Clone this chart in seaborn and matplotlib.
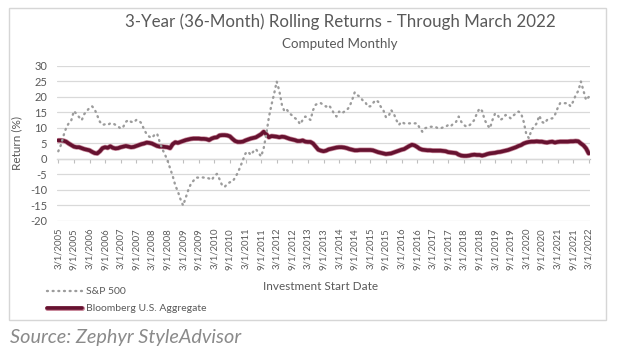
import matplotlib
matplotlib.use("Agg")
import matplotlib.pyplot as plt
import matplotlib.patheffects as pe
from matplotlib.patches import Rectangle
from matplotlib.lines import Line2D
import numpy as np
import pandas as pd
import seaborn as sns

# ---------------- data (monthly, investment start 3/2005 .. 3/2022) ----------------
sp500 = [
    2.5, 4.5, 7.5, 10, 11.5, 12.5, 15.5, 14.5, 13.5, 12.5,
    14.5, 15.5, 16.5, 17, 16, 14, 12, 11, 11.2, 11,
    11.5, 11.5, 11, 10.5, 9.8, 10.4, 12, 12.6, 12, 11.8,
    12.6, 12.4, 11.5, 9.5, 8, 7.2, 6.8, 7.8, 8.2, 5.5,
    3.2, 1.5, -0.5, -3, -5.5, -8.5, -10.5, -13, -15, -12.5,
    -10, -8, -7, -6, -6, -5.9, -6, -6, -6.3, -6.8,
    -5.5, -4.8, -6.5, -8.5, -9, -8, -7.5, -7.3, -6, -4.5,
    -2.5, -0.3, 1.8, 2.4, 1.3, 2.4, 3.2, 2, 0.8, 3.5,
    8, 13.5, 17.5, 21, 25, 22, 17.5, 15.3, 15.8, 14.7,
    14, 13.2, 12.6, 11.2, 12.6, 13.7, 13.2, 12.6, 15.8, 17.5,
    18, 18, 17.4, 16.9, 17.4, 16.3, 14.7, 13.7, 15.3, 14.7,
    15.3, 15.8, 16.9, 19, 21.5, 20.6, 20.1, 19, 18.5, 16.9,
    17, 18, 19, 18.5, 16.9, 15.8, 13.5, 13.7, 15.8, 14.7,
    12.6, 11, 12, 11.5, 11.5, 11.5, 11.5, 11.5, 11.5, 10,
    8.8, 9.9, 10.2, 10.4, 10.4, 10.4, 9.9, 9.9, 10.2, 10.4,
    11, 10.6, 11.5, 12, 13.7, 12, 11, 10.4, 10.8, 11.5,
    12.6, 14.7, 16.3, 15.5, 12.6, 11, 9.9, 12.6, 14.7, 14.2,
    12.6, 13.1, 14.2, 13.8, 13.1, 14, 14.7, 15.3, 14.7, 12,
    8, 6.7, 9.4, 10.4, 11.5, 14, 12, 11.5, 12.6, 13,
    13.1, 14.2, 16.3, 18, 18, 18, 18, 17, 18.5, 20.6,
    22, 25, 22, 19, 20,
]

agg = [
    6.0, 6.0, 5.9, 5.6, 5.0, 4.5, 4.0, 3.8, 3.8, 3.5,
    3.2, 3.0, 2.8, 2.3, 1.9, 1.8, 2.5, 3.5, 3.8, 3.6,
    4.1, 3.6, 3.4, 3.5, 3.8, 4.0, 4.2, 4.0, 3.8, 3.9,
    4.2, 4.5, 4.8, 5.0, 5.3, 5.2, 5.0, 4.6, 4.2, 4.0,
    4.0, 3.9, 3.8, 3.5, 4.8, 5.4, 5.2, 5.5, 5.8, 6.1,
    6.3, 6.5, 6.6, 6.6, 6.6, 6.5, 6.5, 6.4, 6.1, 6.6,
    6.9, 7.0, 7.6, 7.7, 7.7, 7.6, 7.3, 6.5, 5.8, 5.5,
    5.5, 5.6, 6.0, 6.3, 6.6, 6.8, 7.0, 7.5, 8.0, 8.8,
    8.0, 7.0, 7.4, 7.3, 7.2, 7.0, 7.2, 7.1, 6.8, 6.5,
    6.3, 6.1, 5.8, 5.8, 6.0, 5.6, 5.5, 5.5, 5.0, 4.0,
    3.0, 2.7, 2.5, 2.7, 3.1, 3.3, 3.5, 3.7, 3.8, 3.8,
    3.7, 3.5, 3.2, 3.0, 2.8, 2.8, 2.9, 2.9, 2.9, 2.9,
    2.9, 2.8, 2.5, 2.2, 2.0, 1.8, 1.6, 1.7, 1.8, 2.1,
    2.4, 2.7, 3.0, 3.2, 3.7, 4.2, 4.6, 4.4, 3.9, 3.3,
    3.0, 2.9, 2.8, 2.8, 2.7, 2.7, 2.7, 2.7, 2.6, 2.5,
    2.2, 2.1, 2.0, 1.9, 1.4, 1.1, 1.0, 1.0, 1.1, 1.3,
    1.4, 1.3, 1.3, 1.1, 1.3, 1.6, 1.8, 1.9, 2.0, 2.2,
    2.3, 2.5, 2.7, 2.9, 3.2, 3.5, 3.8, 4.2, 4.5, 5.0,
    5.3, 5.5, 5.6, 5.6, 5.7, 5.6, 5.6, 5.4, 5.3, 5.5,
    5.6, 5.3, 5.5, 5.6, 5.6, 5.6, 5.6, 5.7, 5.7, 5.8,
    5.7, 5.0, 4.4, 3.4, 1.8,
]

tick_labels = [
    "3/1/2005", "9/1/2005", "3/1/2006", "9/1/2006", "3/1/2007", "9/1/2007",
    "3/1/2008", "9/1/2008", "3/1/2009", "9/1/2009", "3/1/2010", "9/1/2010",
    "3/1/2011", "9/1/2011", "3/1/2012", "9/1/2012", "3/1/2013", "9/1/2013",
    "3/1/2014", "9/1/2014", "3/1/2015", "9/1/2015", "3/1/2016", "9/1/2016",
    "3/1/2017", "9/1/2017", "3/1/2018", "9/1/2018", "3/1/2019", "9/1/2019",
    "3/1/2020", "9/1/2020", "3/1/2021", "9/1/2021", "3/1/2022",
]
series_names = ["S&P 500", "Bloomberg U.S. Aggregate"]
y_ticks = [-20, -15, -10, -5, 0, 5, 10, 15, 20, 25, 30]

# ---------------- style ----------------
sns.set_theme(style="white")
plt.rcParams["font.family"] = ["Lato", "DejaVu Sans"]

TXT = "#595959"
GRID = "#d9d9d9"
SP_COL = "#9c9c9c"
AGG_COL = "#661230"
DOTS = (0, (0.4, 2.0))
HALO = [pe.Stroke(linewidth=3.6, foreground="#c98a9c"), pe.Normal()]

df = pd.DataFrame({
    "month": np.arange(len(sp500)),
    series_names[0]: sp500,
    series_names[1]: agg,
})

fig = plt.figure(figsize=(6.24, 3.49), dpi=100)
fig.patch.set_facecolor("white")

# outer chart frame
fig.patches.append(Rectangle((9 / 624, 1 - 320 / 349), (606 - 9) / 624, (320 - 8) / 349,
                             transform=fig.transFigure, fill=False,
                             edgecolor="#d6d6d6", linewidth=1.0, zorder=0))

ax = fig.add_axes([57 / 624, 1 - 221 / 349, (590 - 57) / 624, (221 - 66) / 349])
ax.set_facecolor("white")

sns.lineplot(data=df, x="month", y=series_names[1], ax=ax, color=AGG_COL,
             linewidth=2.6, zorder=3, solid_capstyle="round", path_effects=HALO)
sns.lineplot(data=df, x="month", y=series_names[0], ax=ax, color=SP_COL,
             linewidth=1.7, zorder=4, linestyle=DOTS, dash_capstyle="round")

ax.set_xlim(-0.5, len(sp500) - 0.5)
ax.set_ylim(-20, 30)
ax.set_yticks(y_ticks)
ax.set_yticklabels([str(v) for v in y_ticks])
ax.yaxis.grid(True, color=GRID, linewidth=0.9)
ax.xaxis.grid(False)
for s in ax.spines.values():
    s.set_visible(False)

tick_pos = np.arange(0, len(sp500), 6)
ax.set_xticks(tick_pos)
ax.set_xticklabels(tick_labels, rotation=90, fontsize=6.8, color=TXT)
ax.tick_params(axis="x", length=0, pad=5)
ax.tick_params(axis="y", length=0, pad=7, labelsize=8, labelcolor=TXT)

# horizontal category axis line crossing at zero, with tick marks
sec = ax.secondary_xaxis(0.4)
sec.set_xticks(tick_pos)
sec.set_xticklabels([])
sec.tick_params(axis="x", direction="out", length=3, width=0.8, color="#bfbfbf")
sec.spines["bottom"].set_color("#bfbfbf")
sec.spines["bottom"].set_linewidth(0.9)
for k in ("top", "left", "right"):
    sec.spines[k].set_visible(False)

ax.set_ylabel("Return (%)", fontsize=8.5, color=TXT)
ax.yaxis.set_label_coords(-0.066, 0.5)
ax.set_xlabel("Investment Start Date", fontsize=8.5, color=TXT)
ax.xaxis.set_label_coords(0.495, -0.39)

fig.text(340 / 624, 1 - 22 / 349, "3-Year (36-Month) Rolling Returns - Through March 2022",
         ha="center", va="center", fontsize=12.2, color=TXT)
fig.text(340 / 624, 1 - 44 / 349, "Computed Monthly",
         ha="center", va="center", fontsize=9.6, color=TXT)

handles = [
    Line2D([], [], color=SP_COL, linewidth=1.7, linestyle=DOTS, dash_capstyle="round"),
    Line2D([], [], color=AGG_COL, linewidth=2.6, path_effects=HALO),
]
fig.legend(handles, series_names, loc="upper left",
           bbox_to_anchor=(47 / 624, 1 - 287 / 349), frameon=False,
           fontsize=7.5, labelcolor=TXT, handlelength=3.4, handletextpad=0.35,
           labelspacing=0.75, borderaxespad=0, borderpad=0)

fig.text(10 / 624, 1 - 338 / 349, "Source: Zephyr StyleAdvisor",
         ha="left", va="center", fontsize=14.3, style="italic", color="#8a8a8a")

fig.savefig("out.png", dpi=100, facecolor="white")
